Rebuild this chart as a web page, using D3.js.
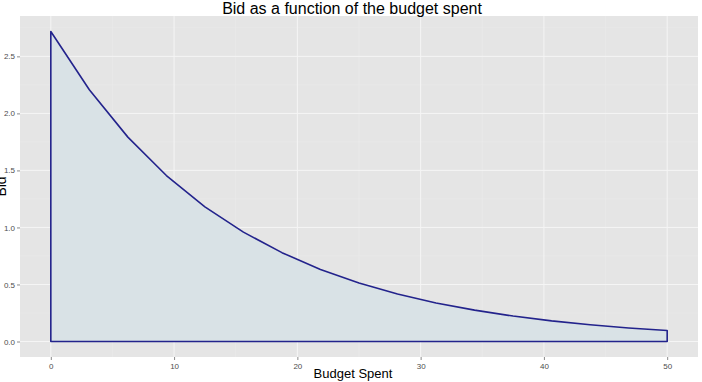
<!DOCTYPE html>
<html><head><meta charset="utf-8">
<script src="https://cdn.jsdelivr.net/npm/d3@7"></script>
<style>body{margin:0;background:#fff}svg{display:block}</style>
</head><body><svg id="c" width="702" height="382"></svg>
<script>
const budgetSpent = [0, 3.125, 6.25, 9.375, 12.5, 15.625, 18.75, 21.875, 25, 28.125, 31.25, 34.375, 37.5, 40.625, 43.75, 46.875, 50];
const bidValues = [2.718, 2.207, 1.792, 1.455, 1.181, 0.959, 0.779, 0.632, 0.513, 0.417, 0.338, 0.275, 0.223, 0.181, 0.147, 0.119, 0.097];
const xTicks = [0, 10, 20, 30, 40, 50];
const yTicks = [0.0, 0.5, 1.0, 1.5, 2.0, 2.5];
const titleText = "Bid as a function of the budget spent";
const xLabel = "Budget Spent";
const yLabel = "Bid";

const svg = d3.select("#c");
const L = 20, R = 698, T = 16, B = 357;
const x = d3.scaleLinear().domain([-2.5, 52.5]).range([L, R]);
const y = d3.scaleLinear().domain([-0.1359, 2.854]).range([B, T]);

svg.append("rect").attr("x", L).attr("y", T).attr("width", R - L).attr("height", B - T).attr("fill", "#e5e5e5");

// minor grid
const xMinor = [5, 15, 25, 35, 45];
const yMinor = [0.25, 0.75, 1.25, 1.75, 2.25, 2.75];
svg.selectAll(".xm").data(xMinor).enter().append("line")
  .attr("x1", d => x(d)).attr("x2", d => x(d)).attr("y1", T).attr("y2", B)
  .attr("stroke", "#ececec").attr("stroke-width", 0.5);
svg.selectAll(".ym").data(yMinor).enter().append("line")
  .attr("y1", d => y(d)).attr("y2", d => y(d)).attr("x1", L).attr("x2", R)
  .attr("stroke", "#ececec").attr("stroke-width", 0.5);
// major grid
svg.selectAll(".xg").data(xTicks).enter().append("line")
  .attr("x1", d => x(d)).attr("x2", d => x(d)).attr("y1", T).attr("y2", B)
  .attr("stroke", "#f5f5f5").attr("stroke-width", 1);
svg.selectAll(".yg").data(yTicks).enter().append("line")
  .attr("y1", d => y(d)).attr("y2", d => y(d)).attr("x1", L).attr("x2", R)
  .attr("stroke", "#f5f5f5").attr("stroke-width", 1);

// polygon
const pts = [[0, 0]].concat(budgetSpent.map((b, i) => [b, bidValues[i]])).concat([[50, 0]]);
svg.append("path")
  .attr("d", d3.line().x(d => x(d[0])).y(d => y(d[1]))(pts) + "Z")
  .attr("fill", "#d9e2e6").attr("stroke", "#23238c").attr("stroke-width", 1.6)
  .attr("stroke-linejoin", "round");

// axes
const xAxis = d3.axisBottom(x).tickValues(xTicks).tickSize(3).tickPadding(3).tickFormat(d3.format("d"));
const gx = svg.append("g").attr("transform", `translate(0,${B})`).call(xAxis);
const yAxis = d3.axisLeft(y).tickValues(yTicks).tickSize(3).tickPadding(2).tickFormat(d3.format(".1f"));
const gy = svg.append("g").attr("transform", `translate(${L},0)`).call(yAxis);
[gx, gy].forEach(g => {
  g.select(".domain").remove();
  g.selectAll(".tick line").attr("stroke", "#8a8a8a");
  g.selectAll(".tick text").attr("fill", "#4d4d4d").style("font-family", "Liberation Sans, Arial, sans-serif").style("font-size", "8px");
});

svg.append("text").attr("x", 352).attr("y", 14).attr("text-anchor", "middle")
  .style("font-family", "Liberation Sans, Arial, sans-serif").style("font-size", "16px").attr("fill", "#000").text(titleText);
svg.append("text").attr("x", 353).attr("y", 378).attr("text-anchor", "middle")
  .style("font-family", "Liberation Sans, Arial, sans-serif").style("font-size", "13px").attr("fill", "#000").text(xLabel);
svg.append("text").attr("transform", `translate(6,${(T + B) / 2}) rotate(-90)`).attr("text-anchor", "middle")
  .style("font-family", "Liberation Sans, Arial, sans-serif").style("font-size", "14px").attr("fill", "#000").text(yLabel);
</script></body></html>
